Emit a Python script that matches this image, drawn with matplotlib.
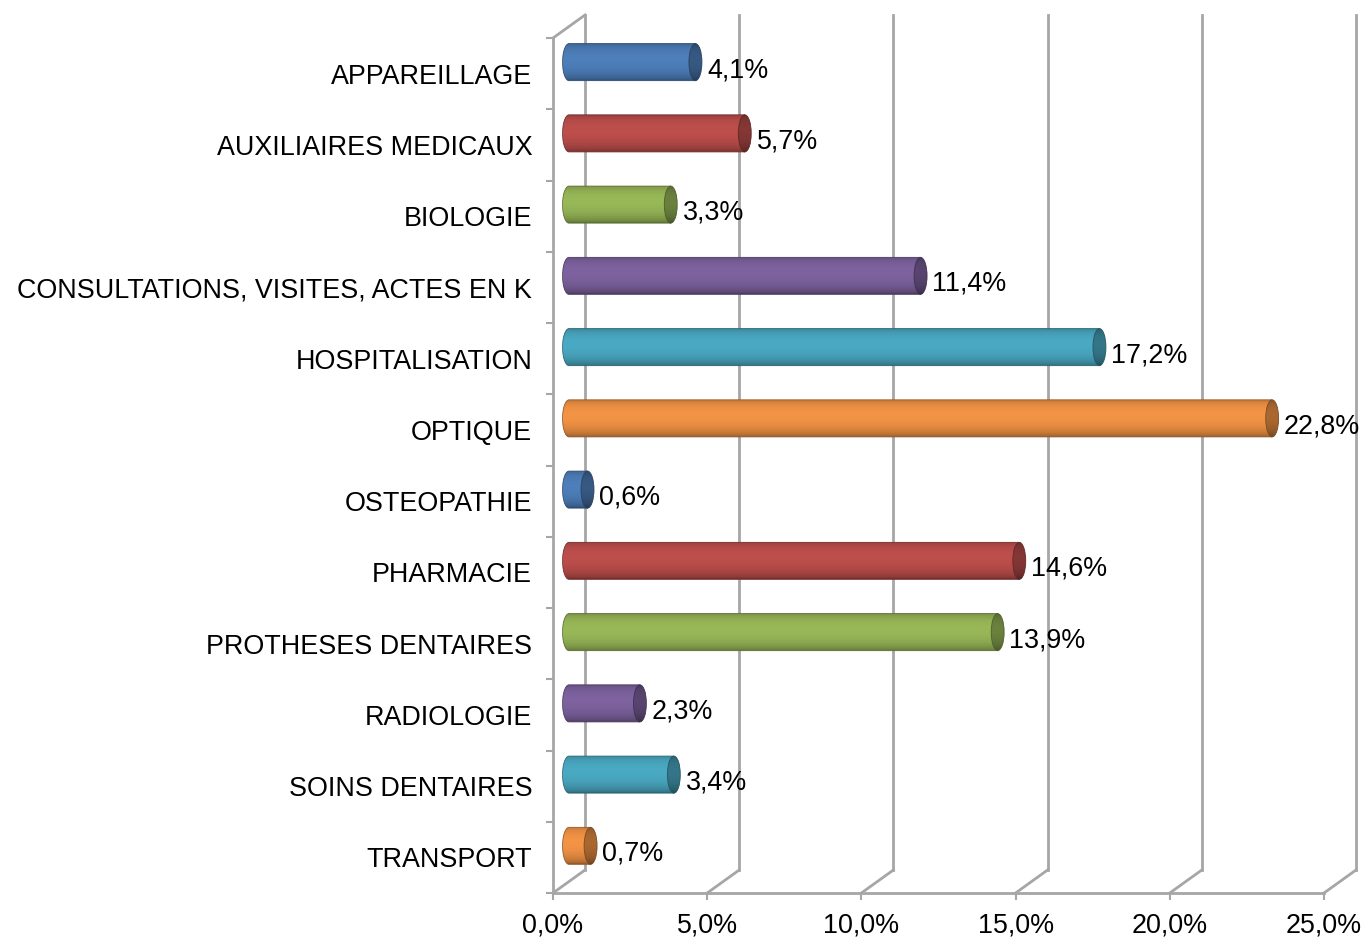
import numpy as np
import matplotlib
matplotlib.use("Agg")
import matplotlib.pyplot as plt
from matplotlib.patches import Ellipse, Polygon
from matplotlib.colors import to_rgb

plt.rcParams['font.family'] = ['Liberation Sans', 'DejaVu Sans']

categories = ['APPAREILLAGE', 'AUXILIAIRES MEDICAUX', 'BIOLOGIE',
              'CONSULTATIONS, VISITES, ACTES EN K', 'HOSPITALISATION', 'OPTIQUE',
              'OSTEOPATHIE', 'PHARMACIE', 'PROTHESES DENTAIRES', 'RADIOLOGIE',
              'SOINS DENTAIRES', 'TRANSPORT']
values = [4.1, 5.7, 3.3, 11.4, 17.2, 22.8, 0.6, 14.6, 13.9, 2.3, 3.4, 0.7]
palette = ['#4F81BD', '#C0504D', '#9BBB59', '#8064A2', '#4BACC6', '#F79646']
xticks = [0, 5, 10, 15, 20, 25]

GRID = '#A6A6A6'
FS = 19.4
W, H = 1364, 940
fig = plt.figure(figsize=(W / 100, H / 100), dpi=100)
ax = fig.add_axes([553 / W, 47 / H, 771 / W, 855 / H])
ax.set_xlim(0, 25)
n = len(categories)
ax.set_ylim(n - 0.5, -0.5)

# depth of the 3d box in data units
px_x = 771 / 25.0
px_y = 855 / n
ddx = 32 / px_x
ddy = -23 / px_y

# back wall gridlines + floor diagonals
for t in xticks:
    ax.plot([t + ddx, t + ddx], [n - 0.5 + ddy, -0.5 + ddy], color=GRID, lw=2,
            clip_on=False, zorder=1)
    ax.plot([t, t + ddx], [n - 0.5, n - 0.5 + ddy], color=GRID, lw=2,
            clip_on=False, zorder=1)
# top diagonal of left wall
ax.plot([0, ddx], [-0.5, -0.5 + ddy], color=GRID, lw=2, clip_on=False, zorder=1)


def shade(rgb, t, dark=1.0):
    # t in [-1, 1], top to bottom
    f = (0.62 + 0.36 * np.sqrt(np.clip(1 - t ** 2, 0, 1)) - 0.06 * t) * dark
    return np.clip(np.array(rgb)[None, :] * f[:, None], 0, 1)


bh = 0.26      # half height of bars
ew = 0.42      # cap ellipse width (x units)
for i, (cat, v) in enumerate(zip(categories, values)):
    rgb = to_rgb(palette[i % len(palette)])
    yc = i + ddy / 2
    x0 = ddx / 2
    x1 = v + ddx / 2
    t = np.linspace(-1, 1, 120)
    grad = shade(rgb, t)[:, None, :].repeat(2, axis=1)

    # body: rounded left + rectangle
    ang = np.linspace(np.pi / 2, 3 * np.pi / 2, 40)
    left = np.column_stack([x0 + ew / 2 * np.cos(ang), yc - bh * np.sin(ang)])
    pts = np.vstack([left, [[x1, yc + bh], [x1, yc - bh]]])
    body = Polygon(pts, closed=True, facecolor='none',
                   edgecolor=tuple(np.array(rgb) * 0.6), lw=0.6, zorder=3)
    ax.add_patch(body)
    im = ax.imshow(grad, extent=[x0 - ew / 2, x1, yc + bh, yc - bh],
                   aspect='auto', interpolation='bilinear', zorder=2.9)
    im.set_clip_path(body)

    # end cap
    cap = Ellipse((x1, yc), ew, 2 * bh, facecolor='none',
                  edgecolor=tuple(np.array(rgb) * 0.5), lw=0.6, zorder=4)
    ax.add_patch(cap)
    capgrad = shade(rgb, t, dark=0.7)[:, None, :].repeat(2, axis=1)
    im2 = ax.imshow(capgrad, extent=[x1 - ew / 2, x1 + ew / 2, yc + bh, yc - bh],
                    aspect='auto', interpolation='bilinear', zorder=3.9)
    im2.set_clip_path(cap)

    ax.text(v + 0.9, i - 0.05, f'{v:.1f}%'.replace('.', ','), fontsize=FS,
            va='center', ha='left', zorder=5)

ax.set_xlim(0, 25)
ax.set_ylim(n - 0.5, -0.5)

ax.set_yticks(range(n))
ax.set_yticklabels(categories)
ax.set_yticks(np.arange(n + 1) - 0.5, minor=True)
ax.tick_params(axis='y', which='major', length=0, pad=15, labelsize=FS)
ax.tick_params(axis='y', which='minor', length=5, width=1.5, color=GRID)
ax.set_xticks(xticks)
ax.set_xticklabels([f'{t:.1f}%'.replace('.', ',') for t in xticks])
ax.tick_params(axis='x', length=5, width=1.5, color=GRID, pad=9, labelsize=FS)

for s in ['top', 'right']:
    ax.spines[s].set_visible(False)
for s in ['left', 'bottom']:
    ax.spines[s].set_color(GRID)
    ax.spines[s].set_linewidth(2)
ax.patch.set_visible(False)

fig.savefig('out.png', dpi=100)
